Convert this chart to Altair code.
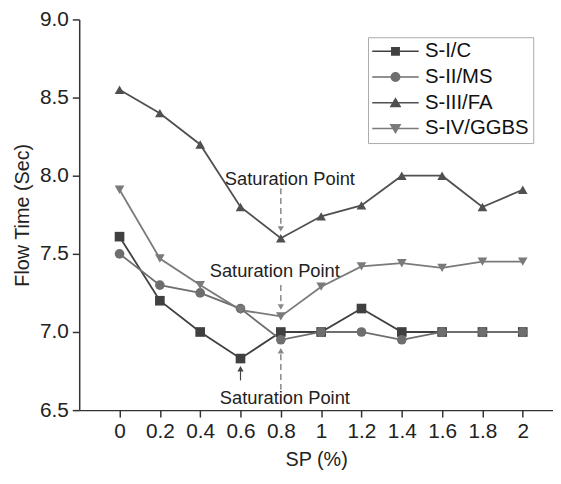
import altair as alt
import pandas as pd

sp = [0, 0.2, 0.4, 0.6, 0.8, 1.0, 1.2, 1.4, 1.6, 1.8, 2.0]
series_names = ["S-I/C", "S-II/MS", "S-III/FA", "S-IV/GGBS"]
s1_c = [7.61, 7.20, 7.00, 6.83, 7.00, 7.00, 7.15, 7.00, 7.00, 7.00, 7.00]
s2_ms = [7.50, 7.30, 7.25, 7.15, 6.95, 7.00, 7.00, 6.95, 7.00, 7.00, 7.00]
s3_fa = [8.55, 8.40, 8.20, 7.80, 7.60, 7.74, 7.81, 8.00, 8.00, 7.80, 7.91]
s4_ggbs = [7.91, 7.47, 7.30, 7.14, 7.10, 7.29, 7.42, 7.44, 7.41, 7.45, 7.45]
colors = ["#404040", "#6e6e6e", "#505050", "#7a7a7a"]
shapes = ["square", "circle", "triangle-up", "triangle-down"]
legend_paths = [
    "M-1,-0.08H3.7V0.08H-1Z M0.9,-0.45H1.8V0.45H0.9Z",
    "M-1,-0.08H3.7V0.08H-1Z M1.85,0A0.5,0.5,0,1,1,0.85,0A0.5,0.5,0,1,1,1.85,0Z",
    "M-1,-0.08H3.7V0.08H-1Z M1.35,-0.55L1.95,0.45L0.75,0.45Z",
    "M-1,-0.08H3.7V0.08H-1Z M1.35,0.55L0.75,-0.45L1.95,-0.45Z",
]

# annotations (data coordinates)
ann_text_x = [0.845, 0.77, 0.82]
ann_text_y = [7.98, 7.39, 6.58]
arrow_x = [0.8, 0.8, 0.8, 0.6]
arrow_y_start = [7.92, 7.30, 6.63, 6.69]
arrow_y_end = [7.66, 7.16, 6.88, 6.765]
arrow_dir = ["triangle-down", "triangle-down", "triangle-up", "triangle-up"]
arrow_dash = [True, True, True, False]

rows = []
for name, vals in zip(series_names, [s1_c, s2_ms, s3_fa, s4_ggbs]):
    for x, y in zip(sp, vals):
        rows.append({"SP": x, "Flow": y, "Series": name, "Legend": name})
df = pd.DataFrame(rows)

font = "Liberation Sans"
xs = alt.Scale(domain=[-0.2, 2.15], nice=False, zero=False)
ys = alt.Scale(domain=[6.5, 9.0], nice=False, zero=False)

X = alt.X("SP:Q", scale=xs, title="SP (%)",
          axis=alt.Axis(values=sp, labelExpr="format(datum.value, '~g')"))
Y = alt.Y("Flow:Q", scale=ys, title="Flow Time (Sec)",
          axis=alt.Axis(values=[6.5, 7.0, 7.5, 8.0, 8.5, 9.0], format=".1f"))

col = alt.Color("Series:N", scale=alt.Scale(domain=series_names, range=colors), legend=None)

lines = alt.Chart(df).mark_line(strokeWidth=1.8).encode(x=X, y=Y, color=col, detail="Series:N")
pts = alt.Chart(df).mark_point(filled=True, size=95, opacity=1).encode(
    x=X, y=Y, color=col,
    shape=alt.Shape("Series:N", scale=alt.Scale(domain=series_names, range=shapes), legend=None),
)
leg = alt.Chart(df).mark_point(filled=True, opacity=0).encode(
    x=X, y=Y,
    fill=alt.Fill("Legend:N", scale=alt.Scale(domain=series_names, range=colors), legend=None),
    shape=alt.Shape("Legend:N", scale=alt.Scale(domain=series_names, range=legend_paths),
                    legend=alt.Legend(title=None, orient="none", legendX=292, legendY=18,
                                      symbolSize=400, symbolOpacity=1, symbolStrokeWidth=0,
                                      symbolFillColor="#555555",
                                      labelFontSize=20.5, labelFont=font, labelColor="#111111",
                                      labelOffset=33, rowPadding=5, padding=4,
                                      strokeColor="#aaaaaa", fillColor="white")),
)

ann_df = pd.DataFrame({"x": ann_text_x, "y": ann_text_y,
                       "t": ["Saturation Point"] * 3})
ann = alt.Chart(ann_df).mark_text(fontSize=18.5, font=font, color="#222222").encode(
    x=alt.X("x:Q", scale=xs), y=alt.Y("y:Q", scale=ys), text="t:N")

arr_df = pd.DataFrame({"x": arrow_x, "y1": arrow_y_start, "y2": arrow_y_end,
                       "dir": arrow_dir, "dash": arrow_dash})
shafts_dash = alt.Chart(arr_df).transform_filter("datum.dash").mark_rule(
    color="#888888", strokeWidth=1.5, strokeDash=[6, 4]).encode(
    x=alt.X("x:Q", scale=xs), y=alt.Y("y1:Q", scale=ys), y2="y2:Q")
shafts_solid = alt.Chart(arr_df).transform_filter("!datum.dash").mark_rule(
    color="#444444", strokeWidth=1.2).encode(
    x=alt.X("x:Q", scale=xs), y=alt.Y("y1:Q", scale=ys), y2="y2:Q")
heads = alt.Chart(arr_df).mark_point(filled=True, size=40, opacity=1).encode(
    x=alt.X("x:Q", scale=xs), y=alt.Y("y2:Q", scale=ys),
    shape=alt.Shape("dir:N", scale=None, legend=None),
    color=alt.condition("datum.dash", alt.value("#888888"), alt.value("#444444")),
)

chart = alt.layer(lines, pts, leg, shafts_dash, shafts_solid, heads, ann).resolve_scale(
    shape="independent", color="independent", fill="independent"
).properties(
    width=479, height=395,
    padding={"left": 72, "top": 9, "right": 0, "bottom": 60},
    autosize=alt.AutoSizeParams(type="none"),
).configure_view(stroke=None).configure_axis(
    grid=False, domainColor="#333333", domainWidth=1.5, tickColor="#333333", tickWidth=1.5,
    tickSize=7, labelFontSize=21, labelFont=font, labelColor="#222222",
    titleFontSize=20, titleFont=font, titleFontWeight="normal", titleColor="#222222",
    labelPadding=4,
).configure_axisY(titlePadding=7).configure_axisX(titlePadding=8)

chart.save("out.html", embed_options={"renderer": "svg", "actions": False})
